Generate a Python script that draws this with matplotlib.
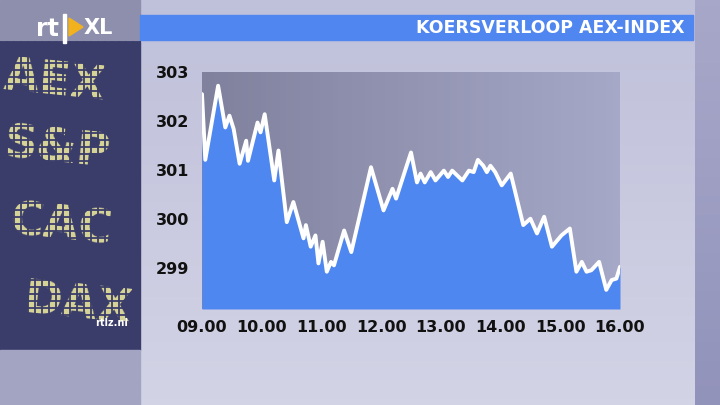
import numpy as np
import matplotlib
matplotlib.use("Agg")
import matplotlib.pyplot as plt
from matplotlib.colors import to_rgb
from matplotlib.patches import Rectangle, Polygon

# koersverloop AEX-index, uur (decimaal) en stand
TIMES = [
    9.00, 9.055, 9.27, 9.39, 9.46, 9.53, 9.63, 9.74, 9.77, 9.93, 9.98,
    10.05, 10.21, 10.28, 10.42, 10.53, 10.70, 10.74, 10.82, 10.90, 10.95,
    11.02, 11.09, 11.16, 11.21, 11.38, 11.50, 11.83, 12.04, 12.19, 12.25,
    12.50, 12.60, 12.66, 12.73, 12.83, 12.91, 13.05, 13.12, 13.19, 13.36,
    13.47, 13.55, 13.62, 13.71, 13.77, 13.83, 13.91, 14.02, 14.17, 14.38,
    14.50, 14.61, 14.73, 14.86, 15.02, 15.16, 15.27, 15.36, 15.44, 15.52,
    15.65, 15.77, 15.86, 15.94, 16.00,
]
AEX = [
    302.55, 301.21, 302.72, 301.87, 302.11, 301.84, 301.13, 301.60, 301.19, 301.97, 301.77,
    302.14, 300.79, 301.40, 299.94, 300.35, 299.61, 299.88, 299.44, 299.67, 299.10,
    299.54, 298.93, 299.13, 299.06, 299.77, 299.33, 301.06, 300.18, 300.62, 300.42,
    301.36, 300.75, 300.93, 300.75, 300.96, 300.79, 300.99, 300.86, 300.99, 300.79,
    300.99, 300.96, 301.21, 301.09, 300.96, 301.09, 300.96, 300.69, 300.93, 299.88,
    300.01, 299.71, 300.05, 299.44, 299.67, 299.81, 298.93, 299.13, 298.93, 298.96,
    299.13, 298.56, 298.76, 298.79, 299.03,
]
Y_TICKS = [299, 300, 301, 302, 303]
X_TICKS = [9, 10, 11, 12, 13, 14, 15, 16]
X_LABELS = ["09.00", "10.00", "11.00", "12.00", "13.00", "14.00", "15.00", "16.00"]
TITLE = "KOERSVERLOOP AEX-INDEX"
TICKER_WORDS = ["AEX", "S&P", "CAC", "DAX"]

Y_MIN, Y_MAX = 298.17, 302.98


def gradient(c_top, c_bottom, n=64, horizontal=False):
    a, b = np.array(to_rgb(c_top)), np.array(to_rgb(c_bottom))
    t = np.linspace(0, 1, n)[:, None]
    g = a + (b - a) * t
    g = g[None, :, :] if horizontal else g[:, None, :]
    return g


fig = plt.figure(figsize=(7.2, 4.05), dpi=100)

# achtergrond in pixelcoordinaten
bg = fig.add_axes([0, 0, 1, 1])
bg.set_xlim(0, 720)
bg.set_ylim(405, 0)
bg.axis("off")

bg.imshow(gradient("#bfc0da", "#d3d3e6"), extent=[140, 695, 405, 0], aspect="auto", zorder=0)
bg.imshow(gradient("#a7a8c9", "#9293bb"), extent=[695, 720, 405, 0], aspect="auto", zorder=0)
bg.add_patch(Rectangle((0, 0), 140, 42, color="#8e8fad", zorder=1))
board = Rectangle((0, 42), 140, 308, color="#3a3c6a", zorder=1)
bg.add_patch(board)

# ticker-bord links
word_pos = [(2, 82), (2, 150), (8, 226), (22, 305)]
for word, (x, y) in zip(TICKER_WORDS, word_pos):
    t = bg.text(x, y, word, fontsize=33, fontweight="bold", color="#d8d597",
                ha="left", va="center", rotation=-6, zorder=2)
    t.set_clip_path(board)
for gx in np.arange(0, 141, 7):
    bg.plot([gx, gx], [42, 350], color="#3a3c6a", lw=1.3, zorder=3)
for gy in np.arange(42, 351, 7):
    bg.plot([0, 140], [gy, gy], color="#3a3c6a", lw=1.3, zorder=3)
bg.add_patch(Rectangle((0, 350), 140, 55, color="#a3a4c2", zorder=4))

# logo
bg.text(36, 29, "rt", fontsize=17, fontweight="bold", color="white", ha="left", va="center", zorder=5)
bg.add_patch(Rectangle((63, 14), 3, 29, color="white", zorder=5))
bg.add_patch(Polygon([[69, 18], [69, 36], [83, 27]], closed=True, color="#f2b21e", zorder=5))
bg.text(84, 28, "XL", fontsize=15, fontweight="bold", color="white", ha="left", va="center", zorder=5)
bg.text(112, 323, "rtlz.nl", fontsize=7, fontweight="bold", color="white", ha="center", va="center", zorder=5)

# titelbalk
bg.add_patch(Rectangle((140, 15), 553, 25, color="#4f86ef", zorder=2))
bg.text(684, 28, TITLE, fontsize=12.5, fontweight="bold", color="white", ha="right", va="center", zorder=3)

# grafiek
ax = fig.add_axes([202 / 720, 1 - 309 / 405, 418 / 720, 237 / 405])
ax.set_xlim(9, 16)
ax.set_ylim(Y_MIN, Y_MAX)
shade = gradient("#7f819d", "#a6a8c8", horizontal=True)
ax.imshow(shade, extent=[9, 16, Y_MIN, Y_MAX], aspect="auto", zorder=0)
ax.fill_between(TIMES, AEX, Y_MIN, color="#4f87f1", lw=0, zorder=1)
ax.plot(TIMES, AEX, color="white", lw=2.8, solid_joinstyle="round", solid_capstyle="round", zorder=2)

ax.set_yticks(Y_TICKS)
ax.set_xticks(X_TICKS)
ax.set_xticklabels(X_LABELS)
ax.tick_params(axis="y", length=0, pad=9.5, labelsize=11.5, labelcolor="#111111")
ax.tick_params(axis="x", length=0, pad=8, labelsize=11.5, labelcolor="#111111")
for lab in ax.get_xticklabels() + ax.get_yticklabels():
    lab.set_fontweight("bold")
for s in ax.spines.values():
    s.set_visible(False)

fig.savefig("out.png", dpi=100)
